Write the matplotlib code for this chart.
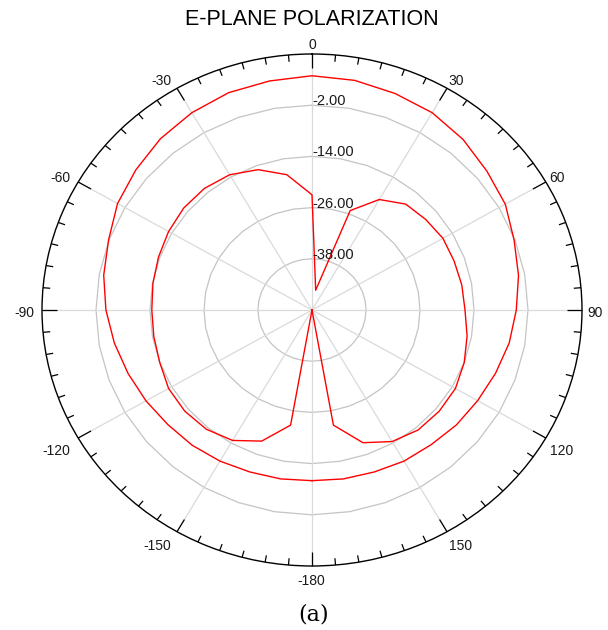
import numpy as np
import matplotlib.pyplot as plt

plt.rcParams['font.family'] = ['Liberation Sans', 'DejaVu Sans']

# pattern samples, degrees / dB
angles = [-180, -170, -160, -150, -140, -130, -120, -110, -100, -90,
          -80, -70, -60, -50, -40, -30, -20, -10, 0, 10,
          20, 30, 40, 50, 60, 70, 80, 90, 100, 110,
          120, 130, 140, 150, 160, 170, 180]
outer_db = [-10.0, -9.8, -9.6, -9.1, -8.6, -8.2, -7.4, -6.5, -5.4, -4.2,
            -3.0, -1.9, -0.1, 1.1, 2.4, 3.4, 4.2, 4.5, 4.9, 4.65,
            4.0, 3.4, 2.2, 0.7, -0.4, -2.2, -3.4, -4.6, -5.5, -6.6,
            -7.5, -8.1, -8.8, -9.1, -9.6, -9.8, -10.0]
inner_db = [-50.0, -22.6, -17.3, -14.7, -13.5, -13.1, -13.2, -14.0, -14.3, -14.4,
            -14.1, -13.7, -13.2, -12.8, -12.8, -13.4, -15.0, -17.8, -23.0, -45.3,
            -25.2, -20.1, -17.6, -17.0, -16.4, -16.4, -16.2, -16.0, -15.0, -14.0,
            -13.2, -13.1, -13.3, -14.4, -16.9, -22.6, -50.0]

ring_levels = [-38, -26, -14, -2]
ring_labels = ['-38.00', '-26.00', '-14.00', '-2.00']
spoke_angles = [0, 30, 60, 90, 120, 150, 180, 210, 240, 270, 300, 330]
angle_labels = ['0', '30', '60', '90', '120', '150', '-180', '-150', '-120', '-90', '-60', '-30']
r_min, r_max = -50, 10

# label nudges in pixels (x right, y up)
label_offsets = [(0, 9), (9, 7.6), (11, 4.3), (13, -3.3), (16, -12.7), (13.7, -14.6),
                 (-1, -15), (-19.7, -14.6), (-21.5, -12.7), (-18, -3.3), (-18.2, 4.3), (-15.3, 7.3)]

fig = plt.figure(figsize=(6.08, 6.30), dpi=100)
ax = fig.add_axes([42 / 608, 64 / 630, 540 / 608, 512 / 630], projection='polar')
ax.set_aspect('auto')
ax.set_theta_zero_location('N')
ax.set_theta_direction(-1)
ax.set_rlim(r_min, r_max)
ax.grid(False)
ax.set_yticks([])
ax.set_xticks([])
ax.spines['polar'].set_color('black')
ax.spines['polar'].set_linewidth(1.0)

# inward scale ticks: long every 30 deg, short every 5 deg
for a in range(0, 360, 5):
    t = np.deg2rad(a)
    tick_len = 3.3 if a % 30 == 0 else 1.6
    ax.plot([t, t], [r_max, r_max - tick_len], color='black', lw=0.9,
            solid_capstyle='butt', clip_on=False, zorder=5)

# grid rings drawn as 10-degree polygons
ring_theta = np.deg2rad(np.arange(0, 370, 10))
for lvl, txt in zip(ring_levels, ring_labels):
    ax.plot(ring_theta, np.full(ring_theta.shape, lvl), color='#c4c4c4', lw=0.9, zorder=1)
    ax.text(0, lvl, txt, ha='left', va='baseline', fontsize=10.5, color='#1a1a1a', zorder=4)

for a in spoke_angles:
    ax.plot([np.deg2rad(a)] * 2, [r_min, r_max], color='#dadada', lw=0.9, zorder=1)

for a, txt, off in zip(spoke_angles, angle_labels, label_offsets):
    ax.annotate(txt, xy=(np.deg2rad(a), r_max), xytext=off, textcoords='offset pixels',
                ha='center', va='center', fontsize=10, color='#1a1a1a', annotation_clip=False)

theta = np.deg2rad(angles)
ax.plot(theta, outer_db, color='red', lw=1.0, zorder=3)
ax.plot(theta, inner_db, color='red', lw=1.0, zorder=3)

fig.text(0.513, 0.969, 'E-PLANE POLARIZATION', ha='center', va='center', fontsize=15.5)
fig.text(0.515, 0.024, '(a)', ha='center', va='center', fontsize=16, family='DejaVu Serif')

fig.savefig('out.png', dpi=100)
